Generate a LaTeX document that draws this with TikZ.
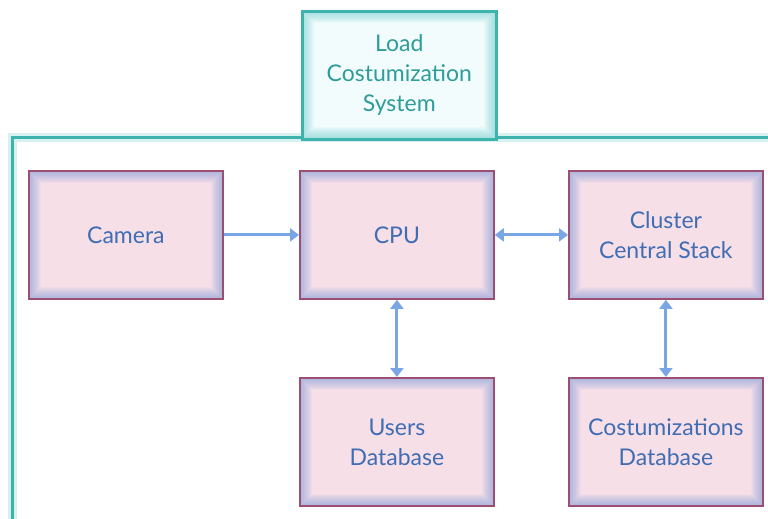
\documentclass[tikz,border=0pt]{standalone}
\usepackage{fontspec}
\setmainfont{Lato}
\usetikzlibrary{arrows.meta}

\definecolor{boxfill}{HTML}{F7DFE8}
\definecolor{boxglow}{HTML}{6F95DA}
\definecolor{boxedge}{HTML}{9C4F72}
\definecolor{boxtext}{HTML}{3F6DB4}
\definecolor{sysfill}{HTML}{F2FCFD}
\definecolor{sysglow}{HTML}{5EC8C8}
\definecolor{sysedge}{HTML}{3DB3AE}
\definecolor{systext}{HTML}{2E9C9A}
\definecolor{linkcol}{HTML}{7AA6E6}

\tikzset{
  x=1pt, y=-1pt,
  % soft glow along the inside of a box: many faint strokes of growing width
  innerglow/.style={
    path picture={
      \foreach \w in {2,4,...,24}
        \draw[#1, line width=\w pt, opacity=0.055]
          (path picture bounding box.north west) rectangle
          (path picture bounding box.south east);
    }
  },
  compbox/.style={
    draw=boxedge, line width=1.8pt, fill=boxfill, innerglow=boxglow,
    minimum width=194pt, minimum height=128pt, anchor=north west,
    text=boxtext, align=center, inner sep=0pt,
    font=\fontsize{23}{30}\selectfont
  },
  sysbox/.style={
    draw=sysedge, line width=2.6pt, fill=sysfill, innerglow=sysglow,
    minimum width=194pt, minimum height=128pt, anchor=north west,
    text=systext, align=center, inner sep=0pt,
    font=\fontsize{23}{30}\selectfont
  },
  link/.style={draw=linkcol, line width=3pt},
  tip/.style={-{Triangle[length=9pt,width=13pt]}},
  twotip/.style={{Triangle[length=9pt,width=13pt]}-{Triangle[length=9pt,width=13pt]}}
}

\begin{document}
\begin{tikzpicture}
  \useasboundingbox (0,0) rectangle (768,519);
  \fill[white] (0,0) rectangle (768,519);

  % enclosing frame with a soft halo
  \draw[sysglow!25, line width=9pt] (12,137) rectangle (780,525);
  \draw[sysedge, line width=3pt] (12,137) rectangle (780,525);

  % title block on the frame
  \node[sysbox] (sys) at (301,10) {Load\\Costumization\\System};

  % components
  \node[compbox] (cam) at (28,170) {Camera};
  \node[compbox] (cpu) at (299,170) {CPU};
  \node[compbox] (ccs) at (568,170) {Cluster\\Central Stack};
  \node[compbox] (udb) at (299,377) {Users\\Database};
  \node[compbox] (cdb) at (568,377) {Costumizations\\Database};

  % links
  \draw[link, tip] (cam.east) -- (cpu.west);
  \draw[link, twotip] (cpu.east) -- (ccs.west);
  \draw[link, twotip] (cpu.south) -- (udb.north);
  \draw[link, twotip] (ccs.south) -- (cdb.north);
\end{tikzpicture}
\end{document}
